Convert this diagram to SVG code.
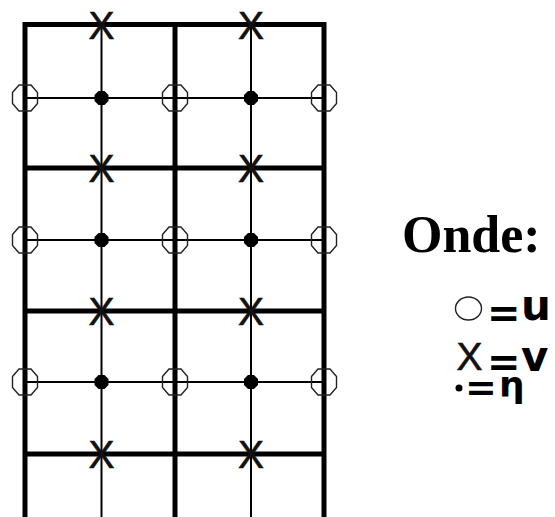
<svg xmlns="http://www.w3.org/2000/svg" width="555" height="517" viewBox="0 0 555 517">
<style>
.thick{stroke:#000;stroke-width:5;fill:none;stroke-linejoin:miter}
.thin{stroke:#000;stroke-width:2;fill:none}
.uo{fill:none;stroke:#222;stroke-width:1.4}
.vx{font-family:"Liberation Sans",Arial,sans-serif;font-size:39px;fill:#111;stroke:#111;stroke-width:0.6;text-anchor:middle}
.eta{fill:#000}
.lg{font-family:"DejaVu Sans",sans-serif;font-weight:bold;fill:#000}
.title{font-family:"Liberation Serif","Times New Roman",serif;font-weight:bold;font-size:52px;fill:#000}
</style>
<defs>
<path id="oct" d="M-12.5,-5.5 L-6,-13 L6,-13 L12.5,-5.5 L12.5,5.5 L6,13 L-6,13 L-12.5,5.5 Z"/>
<path id="dot" d="M-3,-7 L3,-7 L7,-3 L7,3 L3,7 L-3,7 L-7,3 L-7,-3 Z"/>
</defs>
<rect width="555" height="517" fill="#fff"/>
<g id="connectors">
<path class="thin" d="M101.5,24.5 V517 M251,24.5 V517"/>
<path class="thin" d="M25,98 H324 M25,240 H324 M25,382 H324"/>
<path class="thick" d="M25,517 V24.5 H324 V517 M175,24.5 V517"/>
<path class="thick" d="M25,168 H324 M25,311 H324 M25,454 H324"/>
</g>
<g id="u-nodes">
<use href="#oct" class="uo" x="25" y="98"/>
<use href="#oct" class="uo" x="175" y="98"/>
<use href="#oct" class="uo" x="324" y="98"/>
<use href="#oct" class="uo" x="25" y="240"/>
<use href="#oct" class="uo" x="175" y="240"/>
<use href="#oct" class="uo" x="324" y="240"/>
<use href="#oct" class="uo" x="25" y="382"/>
<use href="#oct" class="uo" x="175" y="382"/>
<use href="#oct" class="uo" x="324" y="382"/>
</g>
<g id="eta-nodes">
<use href="#dot" class="eta" x="101.5" y="98"/>
<use href="#dot" class="eta" x="251" y="98"/>
<use href="#dot" class="eta" x="101.5" y="240"/>
<use href="#dot" class="eta" x="251" y="240"/>
<use href="#dot" class="eta" x="101.5" y="382"/>
<use href="#dot" class="eta" x="251" y="382"/>
</g>
<g id="v-nodes">
<text class="vx" x="101.5" y="38.5">X</text>
<text class="vx" x="251" y="38.5">X</text>
<text class="vx" x="101.5" y="182">X</text>
<text class="vx" x="251" y="182">X</text>
<text class="vx" x="101.5" y="325">X</text>
<text class="vx" x="251" y="325">X</text>
<text class="vx" x="101.5" y="468">X</text>
<text class="vx" x="251" y="468">X</text>
</g>
<g id="legend">
<text class="title" x="402" y="252">Onde:</text>
<ellipse class="uo" cx="468.5" cy="308.5" rx="13" ry="11.5" stroke-width="1.6"/>
<text class="lg" font-size="40" x="487" y="327">=</text>
<text class="lg" font-size="42" x="521" y="320">u</text>
<text class="vx" x="469.5" y="370" font-size="36" style="text-anchor:middle">X</text>
<text class="lg" font-size="40" x="487" y="376">=</text>
<text class="lg" font-size="42" x="521" y="371">v</text>
<circle cx="459" cy="388" r="3.5" fill="#000"/>
<text class="lg" font-size="38" x="465" y="400">=</text>
<text class="lg" font-size="36" x="499" y="397">η</text>
</g>
</svg>
